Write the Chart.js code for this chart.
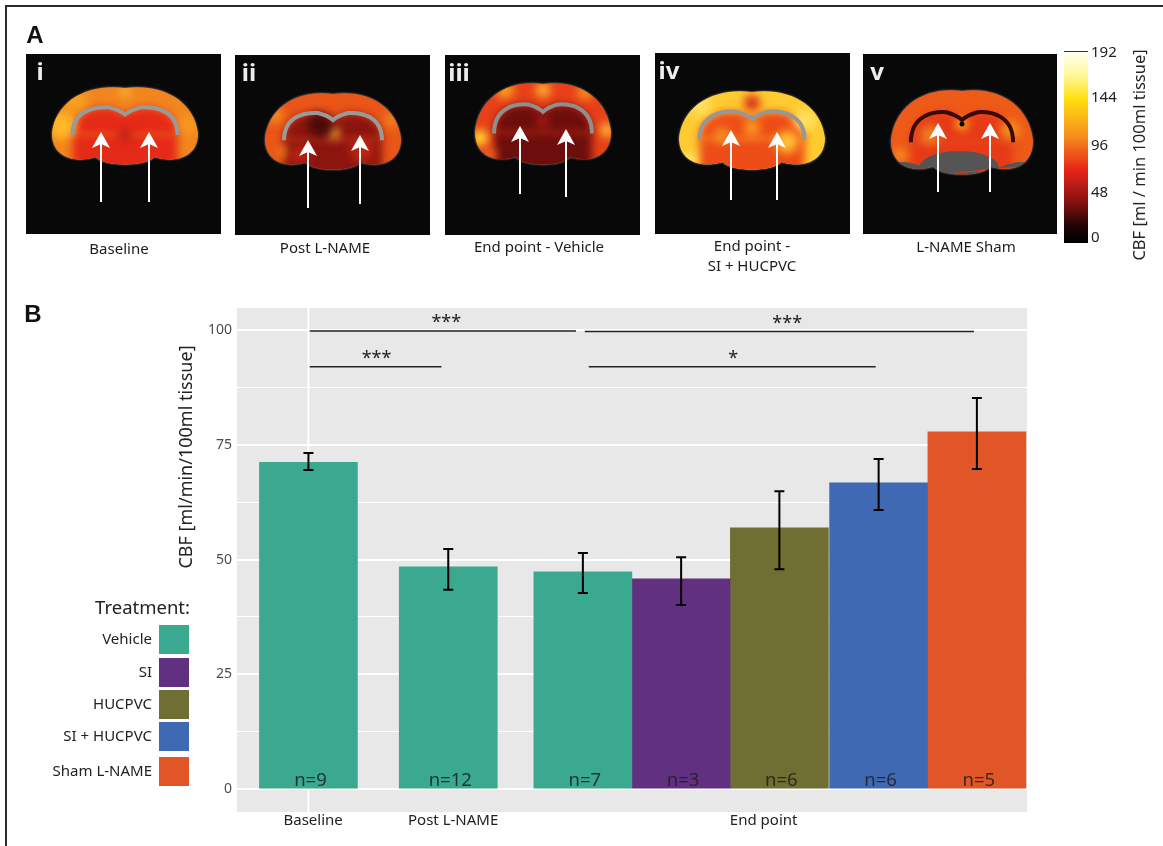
<!DOCTYPE html>
<html>
<head>
<meta charset="utf-8">
<style>
  html, body { margin: 0; padding: 0; background: #fff; }
  canvas { display: block; }
</style>
<script src="https://cdn.jsdelivr.net/npm/chart.js@4"></script>
</head>
<body>
<canvas id="chart" width="1163" height="846"></canvas>
<script>
// panel B values
const treatments = ["Vehicle", "SI", "HUCPVC", "SI + HUCPVC", "Sham L-NAME"];
const barTreatment = [0, 0, 0, 1, 2, 3, 4];
const cbfMean = [71.2, 48.4, 47.3, 45.8, 56.9, 66.7, 77.8];
const cbfLow = [69.5, 43.4, 42.7, 40.1, 47.9, 60.8, 69.7];
const cbfHigh = [73.2, 52.3, 51.4, 50.5, 64.9, 71.9, 85.2];
const nLabels = ["n=9", "n=12", "n=7", "n=3", "n=6", "n=6", "n=5"];
const yLabels = [0, 25, 50, 75, 100];
const yMinorLines = [12.5, 37.5, 62.5, 87.5];

// x axis runs in bar widths, the groups are not evenly spaced in the original
const barSlot = [0.727, 2.15, 3.52, 4.52, 5.52, 6.53, 7.53];
const xLabels = ["Baseline", "Post L-NAME", "End point"];
const xLabelSlot = [0.775, 2.2, 5.36];

const sigLines = [
  { stars: "***", from: 0.74, to: 3.45, y: 99.8, starsAt: 2.13 },
  { stars: "***", from: 0.74, to: 2.08, y: 92.0, starsAt: 1.42 },
  { stars: "***", from: 3.54, to: 7.5, y: 99.7, starsAt: 5.6 },
  { stars: "*", from: 3.58, to: 6.5, y: 92.0, starsAt: 5.05 },
];

const colors = ["#3aa98f", "#623080", "#6f6f33", "#3f6ab3", "#e05626"];
const labelFont = "'Noto Sans', sans-serif";

// panel A: stylised CBF maps, these are pictures and not chart marks
const brains = [
  { tag: "i", box: [26, 54, 195, 180], cx: 125, top: 86, bottom: 165, hw: 73, outer: "#f2861e", inner: "#e52a18", arc: "#9a9a9a",
    arrows: [[101, 132, 202], [149, 132, 202]], caption: ["Baseline"], capX: 119, capY: 250,
    spots: [[62, 125, 14, "#ffb828"], [75, 100, 12, "#f7a01f"], [188, 125, 9, "#f79a20"], [125, 92, 4, "#ffd040"], [125, 135, 7, "#c01c18"]] },
  { tag: "ii", box: [235, 55, 195, 180], cx: 333, top: 92, bottom: 170, hw: 68, outer: "#ea5518", inner: "#8c1510", arc: "#9a9a9a",
    arrows: [[308, 140, 208], [360, 135, 204]], caption: ["Post L-NAME"], capX: 325, capY: 249,
    spots: [[334, 133, 5, "#ffe040"], [275, 115, 8, "#f59020"], [392, 120, 8, "#f08020"], [283, 152, 4, "#ffb020"], [320, 125, 12, "#4a0a0a"], [362, 150, 12, "#c02412"], [300, 155, 9, "#c02412"]] },
  { tag: "iii", box: [445, 55, 195, 180], cx: 543, top: 82, bottom: 165, hw: 68, outer: "#e8401a", inner: "#6e0e0c", arc: "#8f8f8f",
    arrows: [[520, 126, 194], [566, 129, 197]], caption: ["End point - Vehicle"], capX: 539, capY: 248,
    spots: [[480, 138, 8, "#ffe030"], [505, 90, 9, "#f9a020"], [543, 90, 7, "#ffc030"], [585, 92, 8, "#f59020"], [543, 122, 6, "#b41c14"], [607, 130, 7, "#ffc030"], [490, 155, 6, "#f07020"]] },
  { tag: "iv", box: [655, 53, 195, 181], cx: 752, top: 90, bottom: 170, hw: 73, outer: "#ffcb30", inner: "#ee4c18", arc: "#979797",
    arrows: [[731, 130, 200], [777, 132, 200]], caption: ["End point -", "SI + HUCPVC"], capX: 752, capY: 247,
    spots: [[752, 103, 8, "#d42416"], [700, 105, 11, "#ffe060"], [805, 120, 11, "#ffe060"], [787, 142, 11, "#ffc030"], [752, 128, 8, "#f9a020"], [722, 135, 8, "#f59020"], [690, 160, 6, "#fff080"]] },
  { tag: "v", box: [863, 54, 194, 180], cx: 962, top: 89, bottom: 175, hw: 71, outer: "#ee5a18", inner: "#e63a18", arc: "#3a0a08",
    arrows: [[938, 123, 192], [990, 123, 192]], caption: ["L-NAME Sham"], capX: 966, capY: 248,
    spots: [[900, 155, 5, "#ffb020"], [1010, 130, 10, "#f59020"], [930, 135, 10, "#f08020"], [962, 124, 6, "#ffc020"], [962, 124, 2.5, "#100000"]], grey: true },
];
const cbarStops = [[0, "#fffff4"], [0.12, "#fff9a0"], [0.25, "#ffe010"], [0.45, "#f58a1c"], [0.62, "#e8241a"], [0.78, "#8a1210"], [0.92, "#1a0404"], [1, "#000"]];
const cbarTicks = [["192", 53], ["144", 98], ["96", 146], ["48", 193], ["0", 238]];

function text(ctx, str, x, y, font, color, align) {
  ctx.font = font;
  ctx.fillStyle = color;
  ctx.textAlign = align || "center";
  ctx.textBaseline = "middle";
  ctx.fillText(str, x, y);
}

function brainPath(ctx, b) {
  const { cx, top, bottom, hw } = b;
  const h = bottom - top;
  ctx.beginPath();
  ctx.moveTo(cx, top + 2);
  ctx.bezierCurveTo(cx + hw * 0.5, top - 3, cx + hw * 0.95, top + h * 0.18, cx + hw, top + h * 0.6);
  ctx.bezierCurveTo(cx + hw, top + h * 0.9, cx + hw * 0.7, top + h * 0.98, cx + hw * 0.4, top + h * 0.9);
  ctx.bezierCurveTo(cx + hw * 0.3, bottom + 2, cx - hw * 0.3, bottom + 2, cx - hw * 0.4, top + h * 0.9);
  ctx.bezierCurveTo(cx - hw * 0.7, top + h * 0.98, cx - hw, top + h * 0.9, cx - hw, top + h * 0.6);
  ctx.bezierCurveTo(cx - hw * 0.95, top + h * 0.18, cx - hw * 0.5, top - 3, cx, top + 2);
  ctx.closePath();
}

function arcPath(ctx, b) {
  const { cx, top, bottom, hw } = b;
  const h = bottom - top;
  ctx.beginPath();
  ctx.moveTo(cx - hw * 0.72, top + h * 0.62);
  ctx.bezierCurveTo(cx - hw * 0.72, top + h * 0.3, cx - hw * 0.4, top + h * 0.26, cx - hw * 0.22, top + h * 0.27);
  ctx.quadraticCurveTo(cx - hw * 0.08, top + h * 0.3, cx, top + h * 0.36);
  ctx.quadraticCurveTo(cx + hw * 0.08, top + h * 0.3, cx + hw * 0.22, top + h * 0.27);
  ctx.bezierCurveTo(cx + hw * 0.4, top + h * 0.26, cx + hw * 0.72, top + h * 0.3, cx + hw * 0.72, top + h * 0.62);
}

function drawArrow(ctx, x, tip, tail) {
  ctx.strokeStyle = "#fff";
  ctx.lineWidth = 2;
  ctx.beginPath();
  ctx.moveTo(x, tip + 10);
  ctx.lineTo(x, tail);
  ctx.stroke();
  ctx.fillStyle = "#fff";
  ctx.beginPath();
  ctx.moveTo(x, tip);
  ctx.lineTo(x + 9, tip + 16);
  ctx.lineTo(x, tip + 12);
  ctx.lineTo(x - 9, tip + 16);
  ctx.closePath();
  ctx.fill();
}

function drawBrain(ctx, b) {
  const [bx, by, bw, bh] = b.box;
  ctx.fillStyle = "#080808";
  ctx.fillRect(bx, by, bw, bh);
  ctx.save();
  ctx.filter = "blur(1px)";
  brainPath(ctx, b);
  ctx.fillStyle = "#8a8a8a";
  ctx.fill();
  ctx.restore();
  ctx.save();
  brainPath(ctx, b);
  ctx.clip();
  ctx.fillStyle = b.outer;
  ctx.fillRect(bx, by, bw, bh);
  ctx.filter = "blur(4px)";
  arcPath(ctx, b);
  ctx.closePath();
  ctx.fillStyle = b.inner;
  ctx.fill();
  ctx.beginPath();
  ctx.rect(b.cx - b.hw * 0.72, b.top + (b.bottom - b.top) * 0.6, b.hw * 1.44, b.bottom - b.top);
  ctx.fill();
  b.spots.forEach(([x, y, r, c]) => {
    ctx.filter = r < 4 ? "none" : "blur(5px)";
    ctx.fillStyle = c;
    ctx.beginPath();
    ctx.arc(x, y, r, 0, Math.PI * 2);
    ctx.fill();
  });
  ctx.filter = "none";
  if (b.grey) {
    ctx.fillStyle = "#555";
    ctx.beginPath();
    ctx.ellipse(b.cx - 3, b.bottom - 7, 40, 17, 0, 0, Math.PI * 2);
    ctx.ellipse(b.cx - 52, b.bottom - 4, 22, 8, 0.2, 0, Math.PI * 2);
    ctx.ellipse(b.cx + 52, b.bottom - 4, 22, 8, -0.2, 0, Math.PI * 2);
    ctx.fill();
  }
  arcPath(ctx, b);
  ctx.strokeStyle = b.arc;
  ctx.lineWidth = 4;
  ctx.stroke();
  ctx.restore();
  text(ctx, b.tag, bx + 14, by + 19, "bold 24px " + labelFont, "#eee", "center");
  b.arrows.forEach(([x, tip, tail]) => drawArrow(ctx, x, tip, tail));
  b.caption.forEach((line, i) => {
    text(ctx, line, b.capX, b.capY + i * 20, "15px " + labelFont, "#1c1c1c");
  });
}

const figurePlugin = {
  id: "figure",
  beforeDraw(chart) {
    const { ctx, chartArea: a } = chart;
    ctx.save();
    ctx.fillStyle = "#fff";
    ctx.fillRect(0, 0, chart.width, chart.height);

    // frame
    ctx.strokeStyle = "#2b2b2b";
    ctx.lineWidth = 2;
    ctx.beginPath();
    ctx.moveTo(6, 846);
    ctx.lineTo(6, 6);
    ctx.lineTo(1163, 6);
    ctx.stroke();

    text(ctx, "A", 35, 36, "bold 24px 'Liberation Sans', sans-serif", "#111");
    text(ctx, "B", 33, 315, "bold 24px 'Liberation Sans', sans-serif", "#111");

    brains.forEach((b) => drawBrain(ctx, b));

    // colour bar
    const g = ctx.createLinearGradient(0, 51, 0, 243);
    cbarStops.forEach(([p, c]) => g.addColorStop(p, c));
    ctx.fillStyle = g;
    ctx.fillRect(1064, 51, 24, 192);
    ctx.strokeStyle = "#333";
    ctx.lineWidth = 1;
    ctx.beginPath();
    ctx.moveTo(1064, 51.5);
    ctx.lineTo(1088, 51.5);
    ctx.stroke();
    cbarTicks.forEach(([t, y]) => text(ctx, t, 1091, y, "15px " + labelFont, "#222", "left"));
    ctx.save();
    ctx.translate(1140, 155);
    ctx.rotate(-Math.PI / 2);
    text(ctx, "CBF [ml / min 100ml tissue]", 0, 0, "16.5px " + labelFont, "#222");
    ctx.restore();

    // panel B background, legend and axis title
    ctx.fillStyle = "#e8e8e8";
    ctx.fillRect(a.left, a.top, a.width, a.height);

    ctx.save();
    ctx.translate(187, 457);
    ctx.rotate(-Math.PI / 2);
    text(ctx, "CBF [ml/min/100ml tissue]", 0, 0, "18px " + labelFont, "#222");
    ctx.restore();

    text(ctx, "Treatment:", 190, 609, "18.5px " + labelFont, "#222", "right");
    const swatchTops = [625, 658, 690, 722, 757];
    treatments.forEach((t, i) => {
      ctx.fillStyle = colors[i];
      ctx.fillRect(159, swatchTops[i], 30, 29);
      text(ctx, t, 152, swatchTops[i] + 15, "15px " + labelFont, "#222", "right");
    });
    ctx.restore();
  },
  beforeDatasetsDraw(chart) {
    // single vertical grid line at Baseline
    const { ctx, chartArea: a, scales: { x } } = chart;
    const px = x.getPixelForValue(barSlot[0]);
    ctx.save();
    ctx.strokeStyle = "#fff";
    ctx.lineWidth = 2;
    ctx.beginPath();
    ctx.moveTo(px, a.top);
    ctx.lineTo(px, a.bottom);
    ctx.stroke();
    ctx.restore();
  },
  afterDatasetsDraw(chart) {
    const { ctx, scales: { x, y } } = chart;
    ctx.save();
    ctx.strokeStyle = "#000";
    ctx.lineWidth = 2;
    barSlot.forEach((slot, i) => {
      const px = x.getPixelForValue(slot);
      const lo = y.getPixelForValue(cbfLow[i]);
      const hi = y.getPixelForValue(cbfHigh[i]);
      ctx.beginPath();
      ctx.moveTo(px, lo);
      ctx.lineTo(px, hi);
      ctx.moveTo(px - 5, lo);
      ctx.lineTo(px + 5, lo);
      ctx.moveTo(px - 5, hi);
      ctx.lineTo(px + 5, hi);
      ctx.stroke();
      text(ctx, nLabels[i], px + 2, y.getPixelForValue(1.8), "18.5px " + labelFont, "rgba(30,30,30,0.85)");
    });
    sigLines.forEach((s) => {
      text(ctx, s.stars, x.getPixelForValue(s.starsAt), y.getPixelForValue(s.y) - 8, "18px " + labelFont, "#222");
    });
    ctx.restore();
  },
};

const barDatasets = treatments.map((t, k) => ({
  type: "bar",
  label: t,
  data: barSlot
    .map((slot, i) => ({ x: slot, y: cbfMean[i], k: barTreatment[i] }))
    .filter((d) => d.k === k),
  backgroundColor: colors[k],
  barThickness: 98,
  grouped: false,
  order: 2,
}));

const lineDatasets = sigLines.map((s) => ({
  type: "line",
  label: s.stars,
  data: [{ x: s.from, y: s.y }, { x: s.to, y: s.y }],
  borderColor: "#222",
  borderWidth: 1.5,
  pointRadius: 0,
  order: 1,
}));

new Chart(document.getElementById("chart"), {
  data: { datasets: [...barDatasets, ...lineDatasets] },
  plugins: [figurePlugin],
  options: {
    responsive: false,
    animation: false,
    devicePixelRatio: 1,
    layout: { padding: { left: 200, top: 308, right: 136, bottom: 8 } },
    plugins: { legend: { display: false }, tooltip: { enabled: false } },
    scales: {
      x: {
        type: "linear",
        offset: false,
        min: 0,
        max: 8.04,
        grid: { display: false, drawTicks: false },
        border: { display: false },
        afterBuildTicks(scale) {
          scale.ticks = xLabelSlot.map((v) => ({ value: v }));
        },
        afterFit(scale) {
          scale.height = 26;
        },
        ticks: {
          autoSkip: false,
          maxRotation: 0,
          padding: 0,
          color: "#222",
          font: { family: labelFont, size: 15 },
          callback: (v) => xLabels[xLabelSlot.indexOf(v)],
        },
      },
      y: {
        min: -5,
        max: 104.8,
        border: { display: false },
        afterBuildTicks(scale) {
          scale.ticks = [...yLabels, ...yMinorLines]
            .sort((a, b) => a - b)
            .map((v) => ({ value: v }));
        },
        afterFit(scale) {
          scale.width = 37;
        },
        grid: {
          color: "#fff",
          drawTicks: false,
          lineWidth: (c) => (yLabels.includes(c.tick.value) ? 2 : 1),
        },
        ticks: {
          autoSkip: false,
          padding: 5,
          color: "#4d4d4d",
          font: { family: labelFont, size: 14 },
          callback: (v) => (yLabels.includes(v) ? v : ""),
        },
      },
    },
  },
});
</script>
</body>
</html>
